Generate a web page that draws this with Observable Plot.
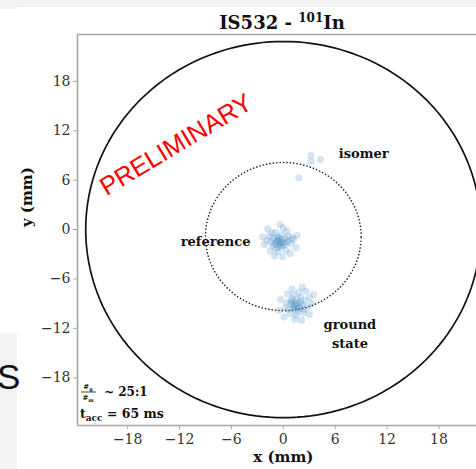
<!DOCTYPE html>
<html>
<head>
<meta charset="utf-8">
<script src="https://cdn.jsdelivr.net/npm/d3@7"></script>
<script src="https://cdn.jsdelivr.net/npm/@observablehq/plot@0.6"></script>
<style>
  html, body { margin: 0; padding: 0; background: white; }
  #wrap { position: relative; width: 476px; height: 469px; overflow: hidden; }
  .bg { position: absolute; background: #f3f3f3; }
  #slideS { position: absolute; left: -3px; top: 359px; line-height: 1; font-family: "Liberation Sans", sans-serif; font-size: 35px; color: #111; }
</style>
</head>
<body>
<div id="wrap"></div>
<script>
// ---- data ----
const xTicks = [-18, -12, -6, 0, 6, 12, 18];
const yTicks = [-18, -12, -6, 0, 6, 12, 18];

// reference ion spots (mm)
const refX = [-0.6,-0.3,-0.9,-0.5,-0.1,-1.1,-0.7,0.2,-1.4,-0.4,0.1,-0.8,-1.2,0.5,-1.6,-0.2,0.6,-1.9,0.9,-0.6,0.3,-1.5,-2.2,1.2,-0.9,0.0,-0.4,1.5,-2.4,0.8,-1.0,-0.1,1.6,-1.8,0.4,-1.3,-0.5,-0.2,-1.0,0.3,1.0,-0.7,-0.3];
const refY = [-1.4,-1.2,-1.6,-1.8,-1.5,-1.1,-0.9,-1.1,-1.5,-2.1,-1.9,-2.3,-2.0,-1.4,-0.8,-0.6,-0.8,-1.3,-1.7,-2.7,-2.5,-2.6,-1.8,-1.2,-0.3,0.2,0.6,-2.2,-0.9,-2.9,-3.2,-3.3,-0.7,0.1,-0.2,-0.4,-1.0,-2.0,-1.8,-1.6,-1.0,-1.3,-1.6];

// ground state spots (mm)
const gsX = [1.4,1.7,1.1,1.9,1.3,0.9,2.2,1.6,0.7,2.5,1.0,2.0,0.4,2.8,1.5,0.8,2.3,0.2,3.0,1.2,1.8,0.5,2.6,3.3,-0.3,1.3,2.1,0.1,3.0,1.6,1.2,1.8,2.4,0.9,-0.5,1.0,2.2,3.5,1.4,2.0];
const gsY = [-9.2,-9.0,-9.5,-9.6,-8.8,-9.0,-9.1,-9.9,-9.7,-8.6,-8.4,-8.2,-8.9,-9.4,-10.4,-10.2,-10.1,-9.5,-8.3,-7.9,-7.6,-7.8,-7.5,-9.0,-8.5,-10.9,-11.0,-10.6,-10.3,-8.5,-9.2,-9.4,-9.7,-8.7,-9.8,-7.2,-7.0,-7.9,-9.6,-8.8];

// isomer spots (mm)
const isoX = [3.2, 4.3, 1.8, 3.2];
const isoY = [9.0, 8.5, 6.3, 8.3];

// circles: detector (MCP) edge and reference–ground radius
const ringNames = ["mcp", "radius"];
const ringCx = [0, 0];
const ringCy = [0, -0.85];
const ringR = [22.85, 9.0];

// annotation labels
const labelText = ["isomer", "reference", "ground\nstate"];
const labelX = [9.3, -3.8, 7.7];
const labelY = [9.4, -1.2, -12.45];

// ---- derived tables ----
const spots = [
  ...refX.map((x, i) => ({x, y: refY[i]})),
  ...gsX.map((x, i) => ({x, y: gsY[i]})),
  ...isoX.map((x, i) => ({x, y: isoY[i]}))
];
const angles = d3.range(0, 361, 2);
const ringPts = ringNames.flatMap((name, k) =>
  angles.map(a => ({name, x: ringCx[k] + ringR[k] * Math.cos(a * Math.PI / 180), y: ringCy[k] + ringR[k] * Math.sin(a * Math.PI / 180)})));
const labels = labelText.map((t, i) => ({t, x: labelX[i], y: labelY[i]}));

const xDom = [-23.8, 22.34], yDom = [-23.8, 23.7];
const fmt = d => d < 0 ? "\u2212" + Math.abs(d) : String(d);
const serif = "DejaVu Serif, serif";
const axisGrey = "#a6a6a6";
const labelStyle = {x: "x", y: "y", text: "t", fontWeight: "bold", fontSize: 13, fill: "#111", lineHeight: 1.45, fontFamily: serif};

const plot = Plot.plot({
  width: 476, height: 469,
  marginLeft: 77, marginRight: 0, marginTop: 34, marginBottom: 44,
  style: {fontFamily: serif, fontSize: "14px", color: "#333", background: "transparent", overflow: "visible"},
  x: {domain: xDom},
  y: {domain: yDom},
  marks: [
    Plot.ruleX([xDom[0]], {stroke: axisGrey, strokeWidth: 1.6}),
    Plot.ruleY([yDom[0], yDom[1]], {stroke: axisGrey, strokeWidth: 1.6}),
    Plot.axisX({ticks: xTicks, tickFormat: fmt, tickSize: 4, tickPadding: 5, stroke: axisGrey, label: null, fontSize: 14}),
    Plot.axisY({ticks: yTicks, tickFormat: fmt, tickSize: 4, tickPadding: 3, stroke: axisGrey, label: null, fontSize: 14}),
    Plot.line(ringPts.filter(d => d.name === "mcp"), {x: "x", y: "y", stroke: "#111", strokeWidth: 1.7}),
    Plot.line(ringPts.filter(d => d.name === "radius"), {x: "x", y: "y", stroke: "#222", strokeWidth: 1.6, strokeDasharray: "0.1,3.3", strokeLinecap: "round"}),
    Plot.dot(spots, {x: "x", y: "y", r: 3.6, fill: "#3c86c6", fillOpacity: 0.22, stroke: null}),
    Plot.text(labels.filter(d => d.t !== "reference"), {...labelStyle, textAnchor: "middle"}),
    Plot.text(labels.filter(d => d.t === "reference"), {...labelStyle, textAnchor: "end"}),
    Plot.text(["PRELIMINARY"], {x: () => -12.4, y: () => 10.3, text: d => d, rotate: -31, fill: "#ff0000", fontSize: 25.5, fontFamily: "Liberation Sans, sans-serif", fontWeight: "normal", textAnchor: "middle", lineAnchor: "middle"}),
    Plot.text(["x (mm)"], {x: () => 0, frameAnchor: "bottom", dy: 36, text: d => d, fontWeight: "bold", fontSize: 15, fill: "#111", fontFamily: serif}),
    Plot.text(["y (mm)"], {y: () => 0.3, frameAnchor: "left", dx: -50, rotate: -90, text: d => d, fontWeight: "bold", fontSize: 15, fill: "#111", fontFamily: serif})
  ]
});

const wrap = document.getElementById("wrap");
wrap.appendChild(plot);

// slide background bits
const top1 = document.createElement("div"); top1.className = "bg";
top1.style.cssText += "left:0;top:0;width:476px;height:7px;"; wrap.appendChild(top1);
const top2 = document.createElement("div"); top2.className = "bg";
top2.style.cssText += "left:0;top:0;width:17px;height:9px;"; wrap.appendChild(top2);
const leftPanel = document.createElement("div"); leftPanel.className = "bg";
leftPanel.style.cssText += "left:0;top:333px;width:17px;height:136px;"; wrap.appendChild(leftPanel);
const s = document.createElement("div"); s.id = "slideS"; s.textContent = "S"; wrap.appendChild(s);

// title and inset annotations with super/subscripts
const svg = d3.select(plot);
const title = svg.append("text").attr("x", 282).attr("y", 29).attr("text-anchor", "middle")
  .attr("font-family", serif).attr("font-weight", "bold").attr("font-size", 18).attr("fill", "#111");
title.append("tspan").text("IS532 - ");
title.append("tspan").attr("font-size", 12).attr("dy", -7).text("101");
title.append("tspan").attr("dy", 7).text("In");

const num = svg.append("text").attr("x", 88).attr("y", 389).attr("text-anchor", "middle")
  .attr("font-family", serif).attr("font-weight", "bold").attr("font-size", 7).attr("fill", "#111");
num.append("tspan").text("#");
num.append("tspan").attr("font-size", 5).attr("dy", 1.5).text("g");
svg.append("line").attr("x1", 81).attr("x2", 96).attr("y1", 392).attr("y2", 392).attr("stroke", "#111").attr("stroke-width", 0.8);
const den = svg.append("text").attr("x", 88).attr("y", 400).attr("text-anchor", "middle")
  .attr("font-family", serif).attr("font-weight", "bold").attr("font-size", 7).attr("fill", "#111");
den.append("tspan").text("#");
den.append("tspan").attr("font-size", 5).attr("dy", 1.5).text("m");
svg.append("text").attr("x", 104).attr("y", 396).attr("text-anchor", "start").attr("font-family", serif).attr("font-weight", "bold")
  .attr("font-size", 12).attr("fill", "#111").text("~ 25:1");
const tacc = svg.append("text").attr("x", 80).attr("y", 418).attr("text-anchor", "start").attr("font-family", serif).attr("font-weight", "bold")
  .attr("font-size", 12.5).attr("fill", "#111");
tacc.append("tspan").text("t");
tacc.append("tspan").attr("font-size", 9).attr("dy", 3).text("acc");
tacc.append("tspan").attr("dy", -3).text(" = 65 ms");
</script>
</body>
</html>
